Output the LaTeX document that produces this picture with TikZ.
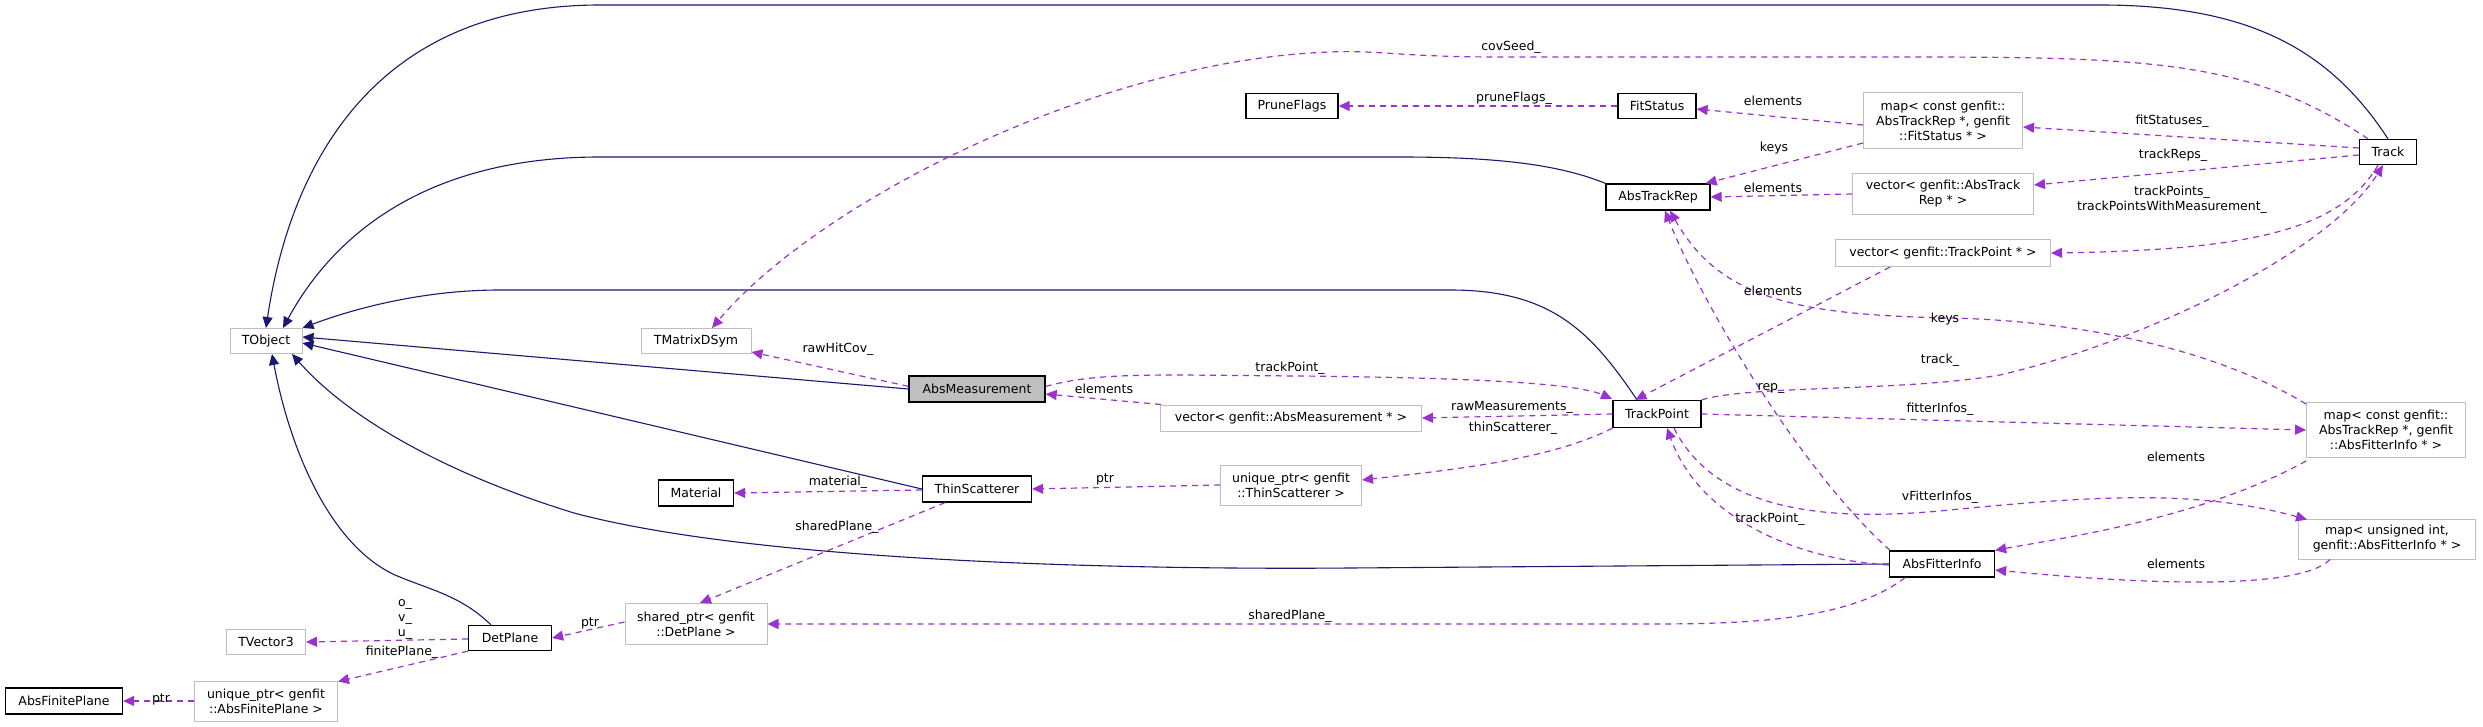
\documentclass[tikz,border=0pt]{standalone}
\usepackage{fontspec}
\setmainfont{DejaVu Sans}
\usetikzlibrary{arrows.meta}
\definecolor{inhc}{HTML}{191970}
\definecolor{usec}{HTML}{9A32CD}
\definecolor{extc}{HTML}{BFBFBF}
\tikzset{
  base/.style={draw, inner sep=0pt, align=center, font=\fontsize{12.5}{15}\selectfont, line width=1pt},
  ext/.style={base, draw=extc, fill=white},
  cls/.style={base, draw=black, fill=white, line width=1.3pt},
  hl/.style={base, draw=black, fill=extc, line width=1.3pt},
  inh/.style={draw=inhc, line width=1.1pt, -{Triangle[length=11pt,width=10pt]}},
  use/.style={draw=usec, line width=1.2pt, dash pattern=on 6pt off 5pt, -{Triangle[length=11pt,width=10pt]}},
  lab/.style={inner sep=0pt, font=\fontsize{12.5}{15}\selectfont, align=center},
}
\begin{document}
\begin{tikzpicture}[x=1pt,y=-1pt]
\useasboundingbox (0,0) rectangle (2483,727);
% nodes
\node[ext, minimum width=72, minimum height=25] (tobj) at (266,341) {TObject};
\node[ext, minimum width=110, minimum height=25] (tmat) at (696,341) {TMatrixDSym};
\node[ext, minimum width=79, minimum height=25] (tvec) at (266,642) {TVector3};
\node[cls, minimum width=75, minimum height=26] (mat) at (696,493) {Material};
\node[ext, minimum width=142, minimum height=41] (shdp) at (696,624) {shared\_ptr< genfit\\::DetPlane >};
\node[ext, minimum width=143, minimum height=40] (uqfp) at (266,701) {unique\_ptr< genfit\\::AbsFinitePlane >};
\node[cls, minimum width=117, minimum height=26] (afp) at (64,701) {AbsFinitePlane};
\node[cls, minimum width=83, minimum height=25] (dp) at (510,638) {DetPlane};
\node[hl, minimum width=136, minimum height=26] (am) at (977,389) {AbsMeasurement};
\node[cls, minimum width=109, minimum height=26] (ts) at (977,489) {ThinScatterer};
\node[ext, minimum width=261, minimum height=26] (vam) at (1291,418) {vector< genfit::AbsMeasurement * >};
\node[ext, minimum width=141, minimum height=40] (uqts) at (1291,485) {unique\_ptr< genfit\\::ThinScatterer >};
\node[cls, minimum width=88, minimum height=27] (tp) at (1657,414) {TrackPoint};
\node[cls, minimum width=92, minimum height=25] (pf) at (1292,106) {PruneFlags};
\node[cls, minimum width=78, minimum height=25] (fs) at (1657,106) {FitStatus};
\node[ext, minimum width=159, minimum height=56] (mfs) at (1943,121) {map< const genfit::\\AbsTrackRep *, genfit\\::FitStatus * >};
\node[cls, minimum width=104, minimum height=26] (atr) at (1658,197) {AbsTrackRep};
\node[ext, minimum width=181, minimum height=41] (vatr) at (1943,194) {vector< genfit::AbsTrack\\Rep * >};
\node[ext, minimum width=215, minimum height=27] (vtp) at (1943,253) {vector< genfit::TrackPoint * >};
\node[cls, minimum width=57, minimum height=25] (trk) at (2388,152) {Track};
\node[ext, minimum width=159, minimum height=55] (mafi) at (2386,430) {map< const genfit::\\AbsTrackRep *, genfit\\::AbsFitterInfo * >};
\node[ext, minimum width=177, minimum height=40] (mun) at (2387,539) {map< unsigned int,\\genfit::AbsFitterInfo * >};
\node[cls, minimum width=105, minimum height=26] (afi) at (1942,564) {AbsFitterInfo};
% inheritance
\draw[inh] (trk.north) .. controls (2330,50) and (2250,5) .. (2100,5) -- (600,5) .. controls (350,5) and (285,200) .. (tobj.north);
\draw[inh] (atr.north west) .. controls (1560,165) and (1500,157) .. (1400,157) -- (600,157) .. controls (400,157) and (320,260) .. ([xshift=17pt]tobj.north);
\draw[inh] ([xshift=-20pt]tp.north) .. controls (1590,330) and (1550,290) .. (1450,290) -- (500,290) .. controls (420,290) and (350,310) .. (tobj.north east);
\draw[inh] (am.west) -- ([yshift=4pt]tobj.east);
\draw[inh] (ts.west) -- ([yshift=-2pt]tobj.east);
\draw[inh] (afi.west) -- (1350,568) .. controls (1100,570) and (750,560) .. (574,513) .. controls (450,475) and (350,420) .. ([xshift=26pt]tobj.south);
\draw[inh] ([xshift=-19pt]dp.north) .. controls (460,595) and (430,590) .. (395,575) .. controls (330,545) and (290,450) .. ([xshift=6pt]tobj.south);
% usage
\draw[use] ([xshift=-20pt]trk.north) .. controls (2250,60) and (2150,57) .. (1900,57) -- (1500,57) .. controls (1400,57) and (1380,50) .. (1330,52) .. controls (1100,60) and (820,200) .. ([xshift=16pt]tmat.north);
\draw[use] (fs.west) -- (pf.east);
\draw[use] ([yshift=-4pt]mfs.west) -- ([yshift=-3pt]fs.east);
\draw[use] ([yshift=-22pt]mfs.west) -- ([xshift=-5pt]atr.north east);
\draw[use] ([yshift=4pt]trk.west) -- ([yshift=-6pt]mfs.east);
\draw[use] ([yshift=-3pt]trk.west) -- ([yshift=9pt]vatr.east);
\draw[use] (vatr.west) -- (atr.east);
\draw[use] ([xshift=-10pt]trk.south) .. controls (2340,230) and (2250,250) .. (vtp.east);
\draw[use] ([xshift=-53pt]vtp.south) -- ([xshift=23pt]tp.north west);
\draw[use] ([yshift=-11pt]am.north west) -- ([yshift=-11pt]tmat.east);
\draw[use] ([yshift=-11pt]am.north east) .. controls (1100,372) and (1150,375) .. (1300,376) .. controls (1500,378) and (1580,385) .. ([xshift=-45pt,yshift=1pt]tp.north);
\draw[use] ([xshift=-130pt]vam.north) -- ([yshift=-5pt]am.east);
\draw[use] (tp.west) -- (vam.east);
\draw[use] (tp.south west) .. controls (1550,460) and (1450,470) .. ([yshift=5pt]uqts.east);
\draw[use] (uqts.west) -- (ts.east);
\draw[use] (ts.west) ++(0,1) -- (mat.east);
\draw[use] ([xshift=-32pt]ts.south) -- ([xshift=4pt]shdp.north);
\draw[use] ([xshift=-52pt]afi.north) .. controls (1800,470) and (1700,300) .. ([xshift=7pt]atr.south);
\draw[use] (tp.north east) .. controls (1750,385) and (1900,392) .. (2000,375) .. controls (2150,340) and (2330,250) .. ([xshift=-5pt]trk.south);
\draw[use] ([yshift=-2pt]mafi.north west) .. controls (2200,340) and (2050,320) .. (1950,318) .. controls (1800,315) and (1720,300) .. ([xshift=12pt]atr.south);
\draw[use] (tp.east) -- (mafi.west);
\draw[use] ([yshift=-3pt]mafi.south west) .. controls (2200,520) and (2050,540) .. (afi.north east);
\draw[use] ([xshift=17pt]tp.south) .. controls (1720,520) and (1850,520) .. (1950,510) .. controls (2100,495) and (2200,490) .. ([xshift=-80pt,yshift=-1pt]mun.north);
\draw[use] ([xshift=-57pt]mun.south) .. controls (2300,590) and (2150,585) .. ([yshift=-6pt]afi.east);
\draw[use] ([yshift=-1pt]afi.west) .. controls (1800,560) and (1700,520) .. ([xshift=10pt]tp.south);
\draw[use] ([xshift=-37pt]afi.south) .. controls (1850,620) and (1750,624) .. (1650,624) -- (shdp.east);
\draw[use] ([yshift=2pt]shdp.west) -- (dp.east);
\draw[use] ([yshift=-1pt]dp.west) -- (tvec.east);
\draw[use] (dp.south west) -- ([yshift=-1pt]uqfp.north east);
\draw[use] (uqfp.west) -- (afp.east);
% labels
\node[lab] (l1) at (1511,47) {covSeed\_};
\node[lab] (l2) at (1514,98) {pruneFlags\_};
\node[lab] (l3) at (1773,101) {elements};
\node[lab] (l4) at (1774,148) {keys};
\node[lab] (l5) at (1773,188) {elements};
\node[lab] (l6) at (2172,121) {fitStatuses\_};
\node[lab] (l7) at (2173,155) {trackReps\_};
\node[lab] (l8) at (2172,200) {trackPoints\_\\trackPointsWithMeasurement\_};
\node[lab] (l9) at (1773,291) {elements};
\node[lab] (l10) at (1945,319) {keys};
\node[lab] (l11) at (1940,360) {track\_};
\node[lab] (l12) at (1771,388) {rep\_};
\node[lab] (l13) at (1290,368) {trackPoint\_};
\node[lab] (l14) at (838,349) {rawHitCov\_};
\node[lab] (l15) at (1104,389) {elements};
\node[lab] (l16) at (1512,407) {rawMeasurements\_};
\node[lab] (l17) at (1513,428) {thinScatterer\_};
\node[lab] (l18) at (1940,409) {fitterInfos\_};
\node[lab] (l19) at (2176,457) {elements};
\node[lab] (l20) at (1940,497) {vFitterInfos\_};
\node[lab] (l21) at (1770,519) {trackPoint\_};
\node[lab] (l22) at (2176,564) {elements};
\node[lab] (l23) at (1290,616) {sharedPlane\_};
\node[lab] (l24) at (1105,479) {ptr};
\node[lab] (l25) at (838,482) {material\_};
\node[lab] (l26) at (837,527) {sharedPlane\_};
\node[lab] (l27) at (405,619) {o\_\\v\_\\u\_};
\node[lab] (l28) at (402,652) {finitePlane\_};
\node[lab] (l29) at (590,623) {ptr};
\node[lab] (l30) at (161,699) {ptr};
\end{tikzpicture}
\end{document}
